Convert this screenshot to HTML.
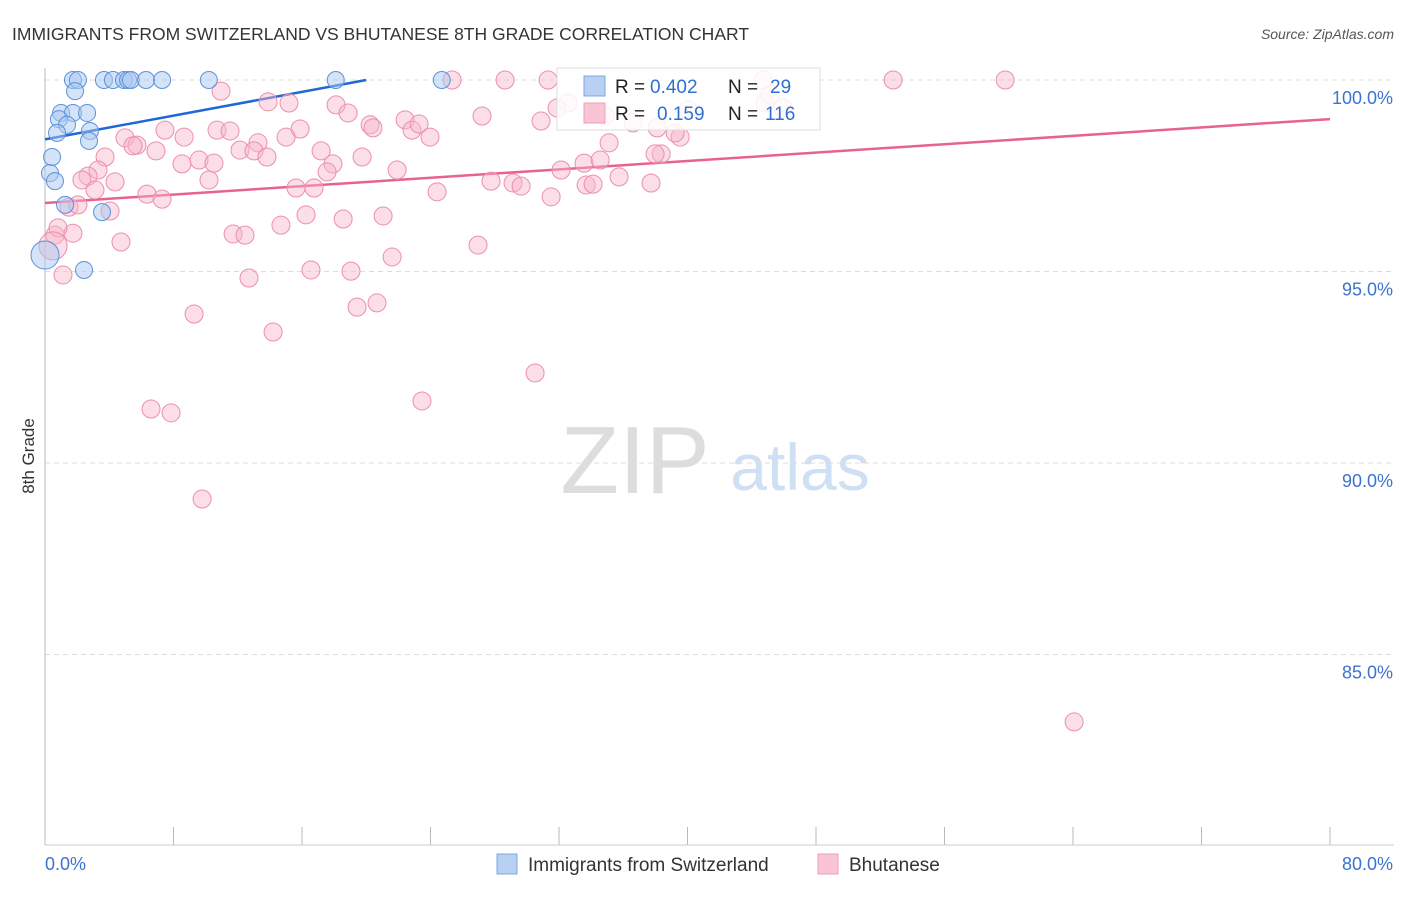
<!DOCTYPE html>
<html><head><meta charset="utf-8"><style>
body{margin:0;background:#fff;font-family:"Liberation Sans",sans-serif}
svg text{font-family:"Liberation Sans",sans-serif}
</style></head><body>
<svg id="chart" width="1406" height="892">
<text x="12" y="40" font-size="17.5" fill="#333">IMMIGRANTS FROM SWITZERLAND VS BHUTANESE 8TH GRADE CORRELATION CHART</text>
<text x="1394" y="39" font-size="14" fill="#555" font-style="italic" text-anchor="end">Source: ZipAtlas.com</text>
<text x="34" y="456" font-size="17" fill="#333" transform="rotate(-90 34 456)" text-anchor="middle">8th Grade</text>
<text x="635" y="493" font-size="96" fill="#ddd" font-family="Liberation Serif" text-anchor="middle">ZIP</text>
<text x="800" y="490" font-size="66" fill="#cfe0f5" text-anchor="middle">atlas</text>
<g id="grid"></g><g id="axes"></g><g id="trends"></g><g id="pts"></g>
<g>
<rect x="557" y="68" width="263" height="62" fill="#fff" fill-opacity="0.85" stroke="#ddd"/>
<rect x="584" y="76" width="21" height="20" fill="#b7d0f3" stroke="#7fa8e0"/>
<rect x="584" y="103" width="21" height="20" fill="#f9c5d4" stroke="#f0a0b8"/>
<text x="615" y="93" font-size="19" fill="#222">R = <tspan x="650" fill="#2f6fd1">0.402</tspan></text>
<text x="728" y="93" font-size="19" fill="#222">N = <tspan x="770" fill="#2f6fd1">29</tspan></text>
<text x="615" y="120" font-size="19" fill="#222">R = <tspan x="657" fill="#2f6fd1">0.159</tspan></text>
<text x="728" y="120" font-size="19" fill="#222">N = <tspan x="765" fill="#2f6fd1">116</tspan></text>
</g>
<g>
<rect x="497" y="854" width="20" height="20" fill="#b7d0f3" stroke="#7fa8e0"/>
<text x="528" y="871" font-size="19" fill="#333">Immigrants from Switzerland</text>
<rect x="818" y="854" width="20" height="20" fill="#f9c5d4" stroke="#f0a0b8"/>
<text x="849" y="871" font-size="19" fill="#333">Bhutanese</text>
</g>
</svg>
<script>
const xTicks=[0,8,16,24,32,40,48,56,64,72,80];
const yTicks=[100,95,90,85];
const yTickLabels=["100.0%","95.0%","90.0%","85.0%"];
const xAxisLabels=["0.0%","80.0%"];
const blueX=[1.74,2.05,3.67,4.23,4.92,5.17,5.35,6.29,7.29,10.2,18.1,24.7,1.87,1.0,1.74,2.62,0.87,1.37,2.8,2.74,0.75,0.44,0.31,0.62,1.25,3.55,2.43,0];
const blueY=[100,100,100,100,100,100,100,100,100,100,100,100,99.71,99.14,99.14,99.14,98.98,98.83,98.67,98.41,98.62,97.99,97.57,97.36,96.74,96.55,95.04,95.43];
const pinkX=[25.34,28.64,31.32,52.8,59.78,44.71,10.96,13.89,15.19,18.12,18.87,22.42,27.21,30.88,32.57,7.47,8.66,4.98,10.71,11.52,13.26,15.88,15.01,20.24,20.42,22.85,23.29,23.97,5.73,5.48,6.91,12.14,13.01,13.82,17.19,19.74,3.74,3.3,8.53,9.59,10.52,17.93,17.56,21.92,2.68,4.36,2.3,10.21,15.63,16.75,24.41,27.77,29.14,29.64,31.51,32.13,33.56,34.56,35.12,33.69,34.12,35.74,37.73,6.35,7.29,3.11,1.49,4.05,2.05,16.25,18.56,21.05,14.69,11.71,12.45,4.73,1.74,0.62,0.81,0.5,26.96,21.61,16.56,19.05,12.7,1.12,20.67,19.43,9.28,14.2,30.51,23.47,6.6,7.85,9.78,64.07,34.87,36.61,38.11,39.54,38.36,37.98,39.23,31.88,40.04,44.83,45.14,45.95];
const pinkY=[100,100,100,100,100,100,99.71,99.43,99.4,99.35,99.14,98.96,99.06,98.93,99.4,98.69,98.51,98.49,98.69,98.67,98.36,98.72,98.51,98.83,98.75,98.69,98.85,98.51,98.3,98.28,98.15,98.17,98.15,97.99,98.15,97.99,97.99,97.65,97.81,97.91,97.83,97.81,97.6,97.65,97.49,97.34,97.39,97.39,97.18,97.18,97.08,97.36,97.31,97.23,96.95,97.65,97.83,97.91,98.36,97.26,97.28,97.47,97.31,97.02,96.89,97.13,96.68,96.58,96.74,96.48,96.37,96.45,96.21,95.98,95.95,95.77,96.0,95.95,96.14,95.67,95.69,95.38,95.04,95.01,94.83,94.91,94.18,94.07,93.89,93.42,92.35,91.62,91.41,91.31,89.06,83.24,99.06,98.88,98.75,98.51,98.07,98.07,98.62,99.27,99.22,99.4,99.61,99.27];
const blueTrendX=[0,20];
const blueTrendY=[98.45,100];
const pinkTrendX=[0,80];
const pinkTrendY=[96.79,98.98];
const NS="http://www.w3.org/2000/svg";
const sx=v=>45+v*1285/80;
const sy=v=>80+(100-v)*38.3;
function mk(tag,attrs,parent){const e=document.createElementNS(NS,tag);for(const k in attrs)e.setAttribute(k,attrs[k]);document.getElementById(parent).appendChild(e);return e;}
yTicks.forEach((t,i)=>{
 const l=mk('line',{x1:45,x2:1394,y1:sy(t),y2:sy(t),stroke:'#ddd','stroke-dasharray':'5,4'},'grid');
 
 
 const tx=mk('text',{x:1393,y:sy(t)+24,'font-size':18,fill:'#3b73d1','text-anchor':'end'},'axes');
 tx.textContent=yTickLabels[i];
 
 
});
const ax=mk('line',{x1:45,x2:45,y1:68,y2:845,stroke:'#bbb'},'axes');


const bx=mk('line',{x1:45,x2:1394,y1:845,y2:845,stroke:'#ccc'},'axes');


xTicks.forEach(t=>{
 const l=mk('line',{x1:sx(t),x2:sx(t),y1:827,y2:845,stroke:'#bbb'},'axes');
 
 
});
[[0,'start',45],[80,'end',1393]].forEach((a,i)=>{
 const tx=mk('text',{x:a[2],y:870,'font-size':18,fill:'#3b73d1','text-anchor':a[1]},'axes');
 tx.textContent=xAxisLabels[i];
 
 
});
pinkX.forEach((x,i)=>{
 const big=(i===79);
 const c=mk('circle',{cx:sx(x),cy:sy(pinkY[i]),r:big?14:9,fill:'#f7b6c9','fill-opacity':0.45,stroke:'#ec8fab','stroke-width':1},'pts');
 
 
});
blueX.forEach((x,i)=>{
 const big=(i===27);
 const c=mk('circle',{cx:sx(x),cy:sy(blueY[i]),r:big?14:8.5,fill:'#a9c8f0','fill-opacity':0.5,stroke:'#5b92dc','stroke-width':1},'pts');
 
 
});
const bt=mk('line',{x1:sx(blueTrendX[0]),y1:sy(blueTrendY[0]),x2:sx(blueTrendX[1]),y2:sy(blueTrendY[1]),stroke:'#2168d6','stroke-width':2.5},'trends');


const pt=mk('line',{x1:sx(pinkTrendX[0]),y1:sy(pinkTrendY[0]),x2:sx(pinkTrendX[1]),y2:sy(pinkTrendY[1]),stroke:'#e8628e','stroke-width':2.5},'trends');


</script>
</body></html>
